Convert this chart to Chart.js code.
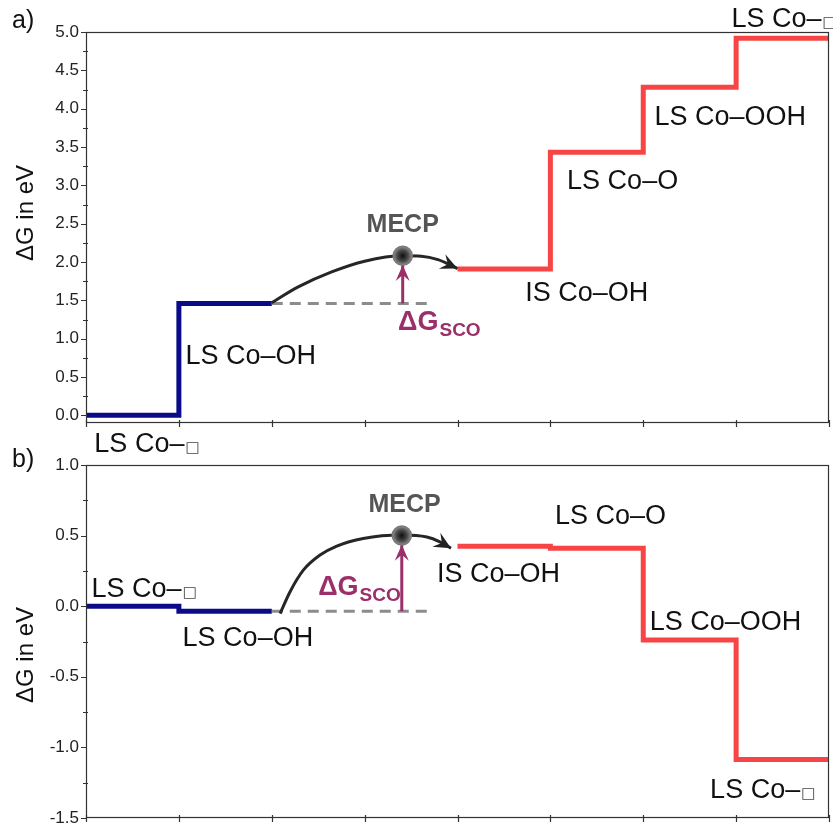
<!DOCTYPE html>
<html>
<head>
<meta charset="utf-8">
<script src="https://cdn.jsdelivr.net/npm/chart.js@4"></script>
<style>
  html, body { margin: 0; padding: 0; background: #fff; overflow: hidden; }
  #wrap { position: relative; width: 833px; height: 824px; overflow: hidden; }
  canvas { position: absolute; left: 0; }
  #chartA { top: 0; }
  #chartB { top: 440px; }
</style>
</head>
<body>
<div id="wrap">
  <canvas id="chartA" width="833" height="460"></canvas>
  <canvas id="chartB" width="833" height="400"></canvas>
</div>
<script>
// =========================
// DATA
// =========================
const xTicks = [0, 1, 2, 3, 4, 5, 6, 7, 8];

// panel a
const yLabelsA = ['0.0', '0.5', '1.0', '1.5', '2.0', '2.5', '3.0', '3.5', '4.0', '4.5', '5.0'];
const lsX_A = [0, 1, 2];
const lsY_A = [0.00, 1.46, 1.46];
const isX_A = [4, 5, 6, 7, 8];
const isY_A = [1.91, 3.43, 4.28, 4.92, 4.92];
const refX_A = [2, 3.7];
const refY_A = [1.46, 1.46];
const pathX_A = [2.00, 2.285, 2.645, 3.00, 3.41, 3.61, 3.79, 4.00];
const pathY_A = [1.47, 1.675, 1.87, 2.01, 2.08, 2.075, 2.03, 1.915];
const mecpA = [3.41, 2.08];
const scoY_A = [1.46, 1.96];
const namesA = ['LS Co–□', 'LS Co–OH', 'IS Co–OH', 'LS Co–O', 'LS Co–OOH', 'LS Co–□'];
const nameX_A = [0.09, 1.07, 4.73, 5.18, 6.12, 6.95];
const nameY_A = [-0.48, 0.67, 1.49, 2.95, 3.79, 5.07];
const mecpLabelA = [3.41, 2.39];
const scoLabelA = [3.36, 1.11];

// panel b
const yLabelsB = ['-1.5', '-1.0', '-0.5', '0.0', '0.5', '1.0'];
const lsX_B = [0, 1, 2];
const lsY_B = [0.00, -0.035, -0.035];
const isX_B = [4, 5, 6, 7, 8];
const isY_B = [0.425, 0.41, -0.24, -1.085, -1.085];
const refX_B = [2, 3.7];
const refY_B = [-0.035, -0.035];
const pathX_B = [2.09, 2.196, 2.34, 2.52, 2.70, 2.985, 3.40, 3.67, 3.81, 3.93];
const pathY_B = [-0.052, 0.101, 0.255, 0.362, 0.426, 0.48, 0.504, 0.49, 0.456, 0.41];
const mecpB = [3.40, 0.50];
const scoY_B = [-0.035, 0.435];
const namesB = ['LS Co–□', 'LS Co–OH', 'IS Co–OH', 'LS Co–O', 'LS Co–OOH', 'LS Co–□'];
const nameX_B = [0.06, 1.04, 3.78, 5.05, 6.07, 6.72];
const nameY_B = [0.064, -0.28, 0.17, 0.58, -0.17, -1.36];
const mecpLabelB = [3.43, 0.667];
const scoLabelB = [2.50, 0.078];

// =========================
// STYLE
// =========================
const FONT = '"Liberation Sans", Arial, sans-serif';
const BLUE = '#0b0b8a';
const RED = '#f74545';
const PURPLE = '#9a2f6a';
const GREY = '#8c8c8c';

function pts(xs, ys) {
    return xs.map((x, i) => ({ x, y: ys[i] }));
}

function arrowHead(ctx, tx, ty, dx, dy, len, half, color) {
    const l = Math.hypot(dx, dy);
    const ux = dx / l, uy = dy / l;
    const nx = -uy, ny = ux;
    const bx = tx - ux * len, by = ty - uy * len;
    ctx.beginPath();
    ctx.moveTo(tx, ty);
    ctx.lineTo(bx + nx * half, by + ny * half);
    ctx.lineTo(tx - ux * len * 0.62, ty - uy * len * 0.62);
    ctx.lineTo(bx - nx * half, by - ny * half);
    ctx.closePath();
    ctx.fillStyle = color;
    ctx.fill();
}

function drawState(ctx, text, px, py) {
    ctx.fillStyle = '#111';
    ctx.textAlign = 'left';
    ctx.textBaseline = 'alphabetic';
    let main = text, box = '';
    if (text.endsWith('□')) {
        main = text.slice(0, -1);
        box = '□';
    }
    ctx.font = '27px ' + FONT;
    ctx.fillText(main, px, py);
    if (box) {
        const w = ctx.measureText(main).width;
        ctx.font = '15px "DejaVu Sans"';
        ctx.fillStyle = '#444';
        ctx.fillText(box, px + w + 1, py);
    }
}

function mecpFill(c) {
    const s = c.chart.scales;
    if (c.type !== 'data' || !s.x || !s.y) return '#444';
    const px = s.x.getPixelForValue(c.raw.x);
    const py = s.y.getPixelForValue(c.raw.y);
    if (!isFinite(px) || !isFinite(py)) return '#444';
    const g = c.chart.ctx.createRadialGradient(px, py, 0, px, py, 10);
    g.addColorStop(0, '#0e0e0e');
    g.addColorStop(0.55, '#4a4a4a');
    g.addColorStop(1, '#9a9a9a');
    return g;
}

// =========================
// PLUGIN
// =========================
const decor = {
    id: 'decor',
    afterDatasetsDraw(chart, args, o) {
        const { ctx, scales: { x, y } } = chart;
        const n = o.pathX.length;
        const tx = x.getPixelForValue(o.pathX[n - 1]);
        const ty = y.getPixelForValue(o.pathY[n - 1]);
        const px = x.getPixelForValue(o.pathX[n - 2]);
        const py = y.getPixelForValue(o.pathY[n - 2]);
        arrowHead(ctx, tx, ty, tx - px, ty - py, 17, 8, '#222');

        const sx = x.getPixelForValue(o.mecp[0]);
        const sy = y.getPixelForValue(o.sco[1]);
        arrowHead(ctx, sx, sy, 0, -1, 16, 7, PURPLE);
    },
    afterDraw(chart, args, o) {
        const { ctx, chartArea: a, scales: { x, y } } = chart;
        ctx.save();

        // frame
        ctx.strokeStyle = '#333';
        ctx.lineWidth = 1.2;
        ctx.strokeRect(a.left + 0.5, a.top + 0.5, a.width - 1, a.height - 1);

        // ticks
        ctx.beginPath();
        y.ticks.forEach((t, i) => {
            const p = Math.round(y.getPixelForValue(t.value)) + 0.5;
            ctx.moveTo(a.left - 5, p);
            ctx.lineTo(a.left + 1, p);
            if (i < y.ticks.length - 1) {
                const m = Math.round(y.getPixelForValue((t.value + y.ticks[i + 1].value) / 2)) + 0.5;
                ctx.moveTo(a.left - 3, m);
                ctx.lineTo(a.left + 2, m);
            }
        });
        xTicks.forEach(v => {
            const p = Math.round(x.getPixelForValue(v)) + 0.5;
            ctx.moveTo(p, a.bottom - 3);
            ctx.lineTo(p, a.bottom + 4);
        });
        ctx.stroke();

        // state names
        o.names.forEach((s, i) => {
            drawState(ctx, s, x.getPixelForValue(o.nameX[i]), y.getPixelForValue(o.nameY[i]));
        });

        // MECP
        ctx.font = 'bold 25px ' + FONT;
        ctx.fillStyle = '#555';
        ctx.textAlign = 'center';
        ctx.fillText('MECP', x.getPixelForValue(o.mecpLabel[0]), y.getPixelForValue(o.mecpLabel[1]));

        // ΔG_SCO
        const gx = x.getPixelForValue(o.scoLabel[0]);
        const gy = y.getPixelForValue(o.scoLabel[1]);
        ctx.textAlign = 'left';
        ctx.fillStyle = PURPLE;
        ctx.font = 'bold 27px ' + FONT;
        ctx.fillText('ΔG', gx, gy);
        const w = ctx.measureText('ΔG').width;
        ctx.font = 'bold 19px ' + FONT;
        ctx.fillText('SCO', gx + w + 1, gy + 6);

        // panel letter and axis title
        ctx.fillStyle = '#111';
        ctx.font = '25px ' + FONT;
        ctx.fillText(o.letter, 12, o.letterY);

        ctx.translate(26, o.titleY);
        ctx.rotate(-Math.PI / 2);
        ctx.textAlign = 'center';
        ctx.textBaseline = 'middle';
        ctx.font = '24px ' + FONT;
        ctx.fillText('ΔG in eV', 0, 0);

        ctx.restore();
    }
};

// =========================
// CHARTS
// =========================
function makePanel(id, d) {
    const yVals = d.yLabels.map(Number);
    return new Chart(document.getElementById(id), {
        type: 'line',
        data: {
            datasets: [
                {
                    data: [{ x: d.mecp[0], y: d.mecp[1] }],
                    showLine: false,
                    pointRadius: 9.5,
                    pointBorderWidth: 1.5,
                    pointBorderColor: '#7a7a7a',
                    pointBackgroundColor: mecpFill,
                    order: 0
                },
                {
                    data: pts([d.mecp[0], d.mecp[0]], d.sco),
                    borderColor: PURPLE,
                    borderWidth: 3,
                    pointRadius: 0,
                    order: 1
                },
                {
                    data: pts(d.pathX, d.pathY),
                    borderColor: '#262626',
                    borderWidth: 3,
                    cubicInterpolationMode: 'monotone',
                    pointRadius: 0,
                    order: 2
                },
                {
                    data: pts(d.lsX, d.lsY),
                    borderColor: BLUE,
                    borderWidth: 5,
                    stepped: true,
                    borderJoinStyle: 'miter',
                    pointRadius: 0,
                    order: 3
                },
                {
                    data: pts(d.isX, d.isY),
                    borderColor: RED,
                    borderWidth: 5,
                    stepped: true,
                    borderJoinStyle: 'miter',
                    pointRadius: 0,
                    order: 3
                },
                {
                    data: pts(d.refX, d.refY),
                    borderColor: GREY,
                    borderWidth: 3,
                    borderDash: [11, 7],
                    pointRadius: 0,
                    order: 4
                }
            ]
        },
        options: {
            responsive: false,
            animation: false,
            layout: { padding: d.padding, autoPadding: false },
            plugins: {
                legend: { display: false },
                tooltip: { enabled: false },
                decor: {
                    pathX: d.pathX, pathY: d.pathY, mecp: d.mecp, sco: d.sco,
                    names: d.names, nameX: d.nameX, nameY: d.nameY,
                    mecpLabel: d.mecpLabel, scoLabel: d.scoLabel,
                    letter: d.letter, letterY: d.letterY, titleY: d.titleY
                }
            },
            scales: {
                x: { type: 'linear', min: 0, max: 8, display: false },
                y: {
                    min: d.yMin,
                    max: d.yMax,
                    grid: { display: false, drawTicks: false },
                    border: { display: false },
                    afterBuildTicks: scale => {
                        scale.ticks = yVals.map(v => ({ value: v }));
                    },
                    afterFit: scale => { scale.width = 86; },
                    ticks: {
                        padding: 7,
                        color: '#222',
                        font: { family: FONT, size: 17 },
                        callback: v => v.toFixed(1)
                    }
                }
            }
        },
        plugins: [decor]
    });
}

makePanel('chartA', {
    yLabels: yLabelsA, yMin: -0.1, yMax: 5.0,
    lsX: lsX_A, lsY: lsY_A, isX: isX_A, isY: isY_A,
    refX: refX_A, refY: refY_A, pathX: pathX_A, pathY: pathY_A,
    mecp: mecpA, sco: scoY_A,
    names: namesA, nameX: nameX_A, nameY: nameY_A,
    mecpLabel: mecpLabelA, scoLabel: scoLabelA,
    letter: 'a)', letterY: 28, titleY: 213,
    padding: { top: 32, right: 4, bottom: 37, left: 0 }
});

makePanel('chartB', {
    yLabels: yLabelsB, yMin: -1.5, yMax: 1.0,
    lsX: lsX_B, lsY: lsY_B, isX: isX_B, isY: isY_B,
    refX: refX_B, refY: refY_B, pathX: pathX_B, pathY: pathY_B,
    mecp: mecpB, sco: scoY_B,
    names: namesB, nameX: nameX_B, nameY: nameY_B,
    mecpLabel: mecpLabelB, scoLabel: scoLabelB,
    letter: 'b)', letterY: 27, titleY: 215,
    padding: { top: 25, right: 4, bottom: 22, left: 0 }
});
</script>
</body>
</html>
